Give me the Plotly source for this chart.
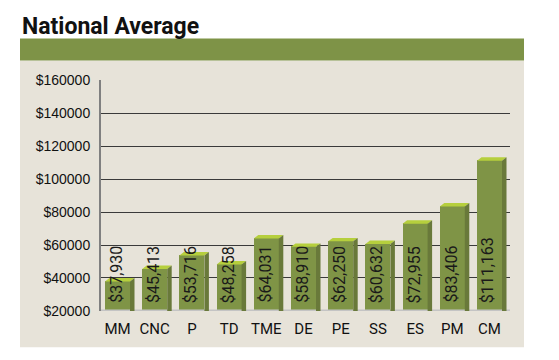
import plotly.graph_objects as go

# ---- data ----
categories = ["MM", "CNC", "P", "TD", "TME", "DE", "PE", "SS", "ES", "PM", "CM"]
salaries = [37930, 45413, 53716, 48258, 64031, 58910, 62250, 60632, 72955, 83406, 111163]
y_tick_values = [20000, 40000, 60000, 80000, 100000, 120000, 140000, 160000]
y_tick_labels = ["$20000", "$40000", "$60000", "$80000", "$100000", "$120000", "$140000", "$160000"]
title_text = "National Average"

# ---- styling / geometry (page pixels) ----
W, H = 559, 360


def fx(X):
    return X / W


def fy(Y):
    return 1 - Y / H


plot_left, plot_right = 101, 510
plot_bottom, plot_top = 317, 75.7
y_min, y_max = 20000, 160000
x_lo, x_hi = -0.4435, 10.551
px_per_x = (plot_right - plot_left) / (x_hi - x_lo)
px_per_y = (plot_bottom - plot_top) / (y_max - y_min)
bar_w = 25 / px_per_x
dx = 4.5 / px_per_x          # 3D depth offset (x) in data units
dy = 3.6 / px_per_y          # 3D depth offset (y) in data units

FRONT = "#7f9446"
TOP = "#b6cf3d"
SIDE = "#69793a"
BAND = "#7e9347"
PANEL = "#e7e3d9"
COND = "Roboto, Liberation Sans, sans-serif"

xs = list(range(len(categories)))

fig = go.Figure()
fig.add_trace(go.Bar(
    x=xs, y=salaries, width=bar_w,
    marker=dict(color=FRONT, line=dict(width=0)),
    hoverinfo="skip",
))

shapes = []
shapes.append(dict(type="rect", xref="paper", yref="paper", layer="below",
                   x0=fx(20), x1=fx(524), y0=fy(355), y1=fy(55),
                   fillcolor=PANEL, line=dict(width=0)))
shapes.append(dict(type="rect", xref="paper", yref="paper", layer="below",
                   x0=fx(20), x1=fx(524), y0=fy(55), y1=fy(32),
                   fillcolor=BAND, line=dict(width=0)))
# floor line
shapes.append(dict(type="line", xref="paper", yref="y", layer="above",
                   x0=fx(plot_left), x1=fx(plot_right), y0=y_min, y1=y_min,
                   line=dict(color="#c4c4c4", width=3)))

# 3D faces computed from data
for x, v in zip(xs, salaries):
    hw = bar_w / 2
    top_path = (f"M {x - hw},{v} L {x + hw},{v} L {x + hw + dx},{v + dy} "
                f"L {x - hw + dx},{v + dy} Z")
    side_path = (f"M {x + hw},{y_min} L {x + hw},{v} L {x + hw + dx},{v + dy} "
                 f"L {x + hw + dx},{y_min} Z")
    shapes.append(dict(type="path", xref="x", yref="y", path=top_path, layer="above",
                       fillcolor=TOP, line=dict(width=0)))
    shapes.append(dict(type="path", xref="x", yref="y", path=side_path, layer="above",
                       fillcolor=SIDE, line=dict(width=0)))

annotations = []
for x, v in zip(xs, salaries):
    annotations.append(dict(
        x=x - 0.03, y=y_min, xref="x", yref="y", yshift=6,
        text=f"${v:,}", textangle=-90, showarrow=False,
        xanchor="center", yanchor="bottom",
        font=dict(family=COND, size=16, color="#1a1a1a"),
    ))
annotations.append(dict(
    x=fx(20), y=fy(3), xref="paper", yref="paper",
    text=f"<b>{title_text}</b>", showarrow=False, xanchor="left", yanchor="top",
    font=dict(family=COND, size=23, color="#111111"),
))

fig.update_layout(
    width=W, height=H,
    margin=dict(l=0, r=0, t=0, b=0),
    paper_bgcolor="white", plot_bgcolor="rgba(0,0,0,0)",
    showlegend=False, bargap=0,
    shapes=shapes, annotations=annotations,
    xaxis=dict(
        domain=[fx(plot_left), fx(plot_right)], range=[x_lo, x_hi],
        tickvals=xs, ticktext=categories, showgrid=False, zeroline=False,
        showline=False, ticks="", ticklabelstandoff=7,
        tickfont=dict(family=COND, size=15, color="#111111"),
        fixedrange=True,
    ),
    yaxis=dict(
        domain=[fy(plot_bottom), fy(plot_top)], range=[y_min, y_max],
        tickvals=y_tick_values, ticktext=y_tick_labels,
        showgrid=True, gridcolor="#3a3a3a", gridwidth=1, zeroline=False,
        showline=True, linecolor="#808080", linewidth=2, ticks="",
        ticklabelstandoff=6,
        tickfont=dict(family="Liberation Sans, Arial, sans-serif", size=14, color="#111111"),
        fixedrange=True,
    ),
)

fig.write_html(
    "out.html",
    config={"displayModeBar": False},
    post_script=("document.documentElement.style.margin='0';"
                 "document.body.style.margin='0';document.body.style.padding='0';"
                 "document.body.style.overflow='hidden';"),
)
